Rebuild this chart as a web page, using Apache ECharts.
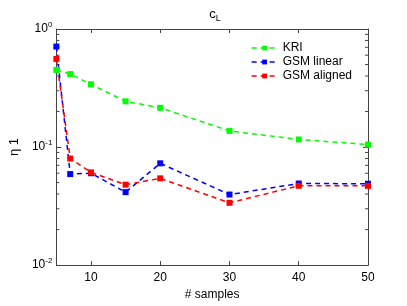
<!DOCTYPE html>
<html><head><meta charset="utf-8">
<script src="https://cdn.jsdelivr.net/npm/echarts@6/dist/echarts.min.js"></script>
<style>html,body{margin:0;padding:0;background:#fff}#c{width:407px;height:306px}</style>
</head><body><div id="c"></div>
<script>
const samples = [5, 7, 10, 15, 20, 30, 40, 50];
const kri = [0.45, 0.415, 0.34, 0.244, 0.215, 0.137, 0.116, 0.105];
const gsmLinear = [0.71, 0.059, 0.060, 0.0415, 0.0728, 0.0396, 0.0491, 0.0489];
const gsmAligned = [0.558, 0.080, 0.061, 0.048, 0.0543, 0.0337, 0.047, 0.0469];
const xTicks = [10, 20, 30, 40, 50];
const yTicks = [0.01, 0.1, 1];
const minorY = [0.02,0.03,0.04,0.05,0.06,0.07,0.08,0.09,0.2,0.3,0.4,0.5,0.6,0.7,0.8,0.9];

const FONT = 'Liberation Sans';
const axisColor = '#444';
function pairs(ys){ return samples.map((x,i)=>[x, ys[i]]); }
function mkSeries(name, ys, color){
  return {name, type:'line', data:pairs(ys), symbol:'rect', symbolSize:6,
    lineStyle:{color, width:1.5, type:[5,4]}, itemStyle:{color}, z:3};
}
const chart = echarts.init(document.getElementById('c'), null, {renderer:'canvas'});
const xBase = {type:'value', min:5, max:50, gridIndex:0,
  axisLine:{show:true, onZero:false, lineStyle:{color:axisColor, width:1}},
  axisTick:{show:true, inside:true, length:4, customValues:xTicks, lineStyle:{color:axisColor}},
  splitLine:{show:false}};
const yBase = {type:'log', logBase:10, min:0.01, max:1,
  axisLine:{show:true, lineStyle:{color:axisColor, width:1}},
  axisTick:{show:true, inside:true, length:5, customValues:yTicks, lineStyle:{color:axisColor}},
  splitLine:{show:false}};
chart.setOption({
  animation:false,
  textStyle:{fontFamily:FONT},
  title:{text:'{a|c}{b|L}', left:210, top:1, textAlign:'center',
    textStyle:{fontWeight:'normal', rich:{a:{fontSize:13, fontFamily:FONT, color:'#000', fontWeight:'normal'}, b:{fontSize:9, fontFamily:FONT, color:'#000', fontWeight:'normal', verticalAlign:'bottom', padding:[8,0,0,0]}}}},
  grid:{left:53, right:39, top:29, bottom:34, containLabel:false},
  legend:{right:50, top:37, orient:'vertical', itemWidth:26, itemHeight:6, itemGap:2,
    textStyle:{fontSize:12, color:'#000', fontFamily:FONT},
    lineStyle:{type:[5,4], width:1.5},
    data:['KRI','GSM linear','GSM aligned']},
  xAxis:[
    Object.assign({}, xBase, {position:'bottom', name:'# samples', nameLocation:'middle', nameGap:18,
      nameTextStyle:{fontSize:12, color:'#000', fontFamily:FONT},
      axisLabel:{show:true, customValues:xTicks, fontSize:12, color:'#000', margin:7, fontFamily:FONT}}),
    Object.assign({}, xBase, {position:'top', axisLabel:{show:false}})
  ],
  yAxis:[
    Object.assign({}, yBase, {position:'left', name:'η 1', nameLocation:'middle', nameGap:33, nameRotate:90,
      nameTextStyle:{fontSize:13, color:'#000', fontFamily:FONT},
      axisLabel:{show:true, customValues:yTicks, margin:4, color:'#000',
        formatter:function(v){ const e=Math.round(Math.log10(v)); return '{b|10}{s|'+e+'}'; },
        rich:{b:{fontSize:12, fontFamily:FONT, color:'#000'}, s:{fontSize:8, fontFamily:FONT, color:'#000', verticalAlign:'top', padding:[0,0,8,0]}}}}),
    Object.assign({}, yBase, {position:'right', axisLabel:{show:false}})
  ],
  series:[
    mkSeries('KRI', kri, '#00ff00'),
    mkSeries('GSM linear', gsmLinear, '#0000ff'),
    mkSeries('GSM aligned', gsmAligned, '#ff0000'),
    {type:'custom', xAxisIndex:0, yAxisIndex:0, silent:true, z:1,
      data:minorY.map(v=>[5, v]),
      renderItem:function(params, api){
        const v = api.value(1);
        const l = api.coord([5, v]);
        const r = api.coord([50, v]);
        const st = {stroke:axisColor, lineWidth:1};
        return {type:'group', children:[
          {type:'line', shape:{x1:l[0], y1:l[1], x2:l[0]+3, y2:l[1]}, style:st},
          {type:'line', shape:{x1:r[0], y1:r[1], x2:r[0]-3, y2:r[1]}, style:st}
        ]};
      }}
  ]
});
</script></body></html>
